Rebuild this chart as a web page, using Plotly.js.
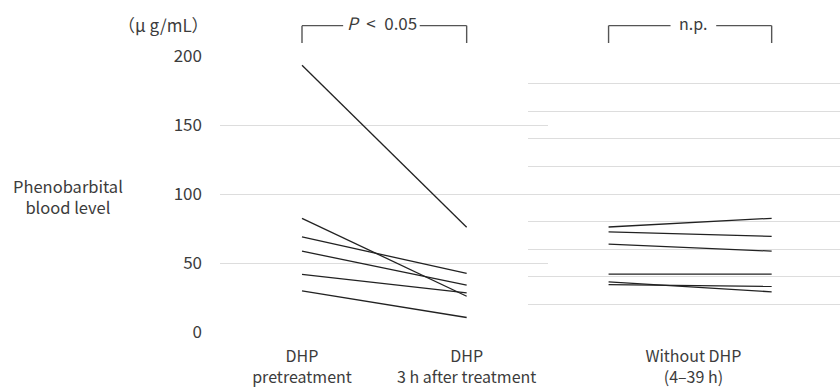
<!DOCTYPE html>
<html>
<head>
<meta charset="utf-8">
<script src="https://cdn.plot.ly/plotly-3.0.1.min.js"></script>
<style>html,body{margin:0;padding:0;background:#fff;}#chart{width:840px;height:388px;}</style>
</head>
<body>
<div id="chart"></div>
<script>
// Data (μg/mL)
const dhpPre  = [193.3, 82.4, 69.0, 58.6, 41.7, 29.8];
const dhpPost = [75.9, 25.9, 42.4, 33.9, 28.3, 10.5];
const noDhpStart = [76.1, 72.5, 63.7, 41.9, 36.3, 34.4];
const noDhpEnd   = [82.4, 69.3, 58.6, 41.9, 29.1, 33.0];
const leftTickLabels = ["DHP<br>pretreatment", "DHP<br>3 h after treatment"];
const rightTickLabels = ["Without DHP<br>(4–39 h)"];
const yTicks = [0, 50, 100, 150, 200];

const FONT = '"Noto Sans CJK JP", "Noto Sans", sans-serif';
const TXT = '#3c3c3c';
const LINE = '#222222';
const traces = [];
dhpPre.forEach((v, i) => {
  traces.push({x: [0, 1], y: [v, dhpPost[i]], xaxis: 'x', yaxis: 'y', mode: 'lines',
    line: {color: LINE, width: 1.3}, showlegend: false, hoverinfo: 'skip'});
});
noDhpStart.forEach((v, i) => {
  traces.push({x: [0, 1], y: [v, noDhpEnd[i]], xaxis: 'x2', yaxis: 'y2', mode: 'lines',
    line: {color: LINE, width: 1.3}, showlegend: false, hoverinfo: 'skip'});
});

const W = 840;
const px = p => p / W;
const grid = '#dddddd';
const brk = '#555555';
function seg(xref, x0, x1, y0, y1) {
  return {type: 'line', xref: xref, yref: 'paper', x0: x0, x1: x1, y0: y0, y1: y1,
    line: {color: brk, width: 1.4}};
}
const yTop = 1.11, yBot = 1.047;
const shapes = [
  seg('x', 0, 0, yBot, yTop), seg('x', 0, 0.25, yTop, yTop),
  seg('x', 0.715, 1, yTop, yTop), seg('x', 1, 1, yTop, yBot),
  seg('x2', 0, 0, yBot, yTop), seg('x2', 0, 0.38, yTop, yTop),
  seg('x2', 0.66, 1, yTop, yTop), seg('x2', 1, 1, yTop, yBot)
];

const layout = {
  width: 840, height: 388,
  margin: {l: 0, r: 0, t: 56, b: 56},
  paper_bgcolor: '#fff', plot_bgcolor: 'rgba(0,0,0,0)',
  font: {family: FONT, color: TXT, size: 17},
  showlegend: false,
  xaxis: {domain: [px(220), px(548)], range: [-0.498, 1.494], showgrid: false, zeroline: false,
    showline: false, ticks: '', tickvals: [0, 1], ticktext: leftTickLabels,
    tickfont: {size: 16, color: TXT, family: FONT}, ticklabelstandoff: 13, anchor: 'y'},
  yaxis: {domain: [0, 1], range: [0, 200], tickvals: yTicks, showgrid: true, gridcolor: grid, gridwidth: 1,
    zeroline: false, showline: false, ticks: '', tickfont: {size: 17, color: TXT, family: FONT},
    ticklabelstandoff: 17, anchor: 'x'},
  xaxis2: {domain: [px(528), 1], range: [-0.494, 1.419], showgrid: false, zeroline: false,
    showline: false, ticks: '', tickvals: [0.52], ticktext: rightTickLabels,
    tickfont: {size: 16, color: TXT, family: FONT}, ticklabelstandoff: 13, anchor: 'y2'},
  yaxis2: {domain: [0, 1], range: [0, 200], dtick: 20, tick0: 0, showgrid: true, gridcolor: grid, gridwidth: 1,
    zeroline: false, showline: false, ticks: '', showticklabels: false, anchor: 'x2'},
  shapes: shapes,
  annotations: [
    {xref: 'paper', yref: 'paper', x: px(211), y: 1.115, xanchor: 'right', yanchor: 'middle',
      text: '（μ g/mL）', showarrow: false, font: {size: 17, color: TXT, family: FONT}},
    {xref: 'paper', yref: 'paper', x: px(68), y: 0.49, xanchor: 'center', yanchor: 'middle',
      text: 'Phenobarbital<br>blood level', showarrow: false, font: {size: 16.5, color: TXT, family: FONT}},
    {xref: 'x', yref: 'paper', x: 0.483, y: 1.12, xanchor: 'center', yanchor: 'middle',
      text: '<i>P</i>\u2002<\u20020.05', showarrow: false, font: {size: 17, color: TXT, family: FONT}},
    {xref: 'x2', yref: 'paper', x: 0.52, y: 1.12, xanchor: 'center', yanchor: 'middle',
      text: 'n.p.', showarrow: false, font: {size: 16, color: TXT, family: FONT}}
  ]
};
Plotly.newPlot('chart', traces, layout, {staticPlot: true, displayModeBar: false});
</script>
</body>
</html>
